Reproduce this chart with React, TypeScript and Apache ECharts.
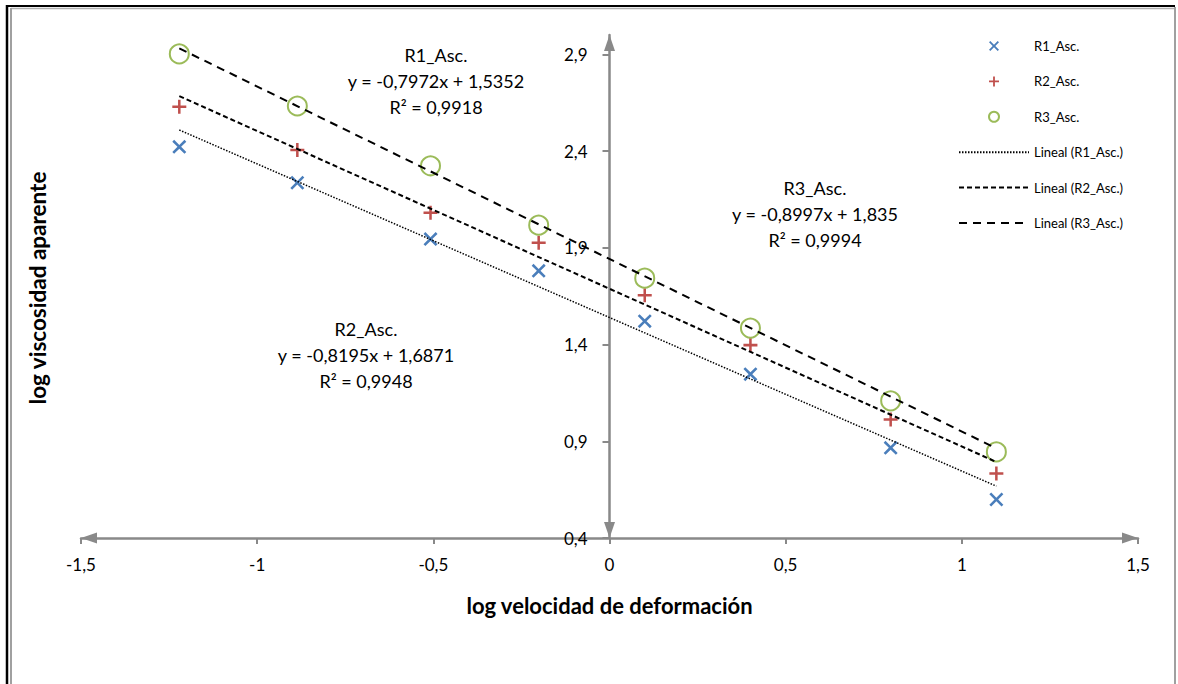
import React, { useEffect, useRef } from "react";
import * as echarts from "echarts";

// ---- data ----
const xValues = [-1.221, -0.886, -0.508, -0.201, 0.1, 0.4, 0.798, 1.098];
const r1Values = [2.422, 2.236, 1.945, 1.781, 1.521, 1.247, 0.866, 0.599];
const r2Values = [2.629, 2.405, 2.081, 1.926, 1.655, 1.397, 1.013, 0.733];
const r3Values = [2.902, 2.633, 2.324, 2.017, 1.743, 1.485, 1.109, 0.845];
// trend lines: value at first x and at last x
const trendR1 = [2.509, 0.668];
const trendR2 = [2.684, 0.793];
const trendR3 = [2.931, 0.863];

const seriesNames = ["R1_Asc.", "R2_Asc.", "R3_Asc."];
const trendNames = ["Lineal (R1_Asc.)", "Lineal (R2_Asc.)", "Lineal (R3_Asc.)"];
const yTicks = [0.4, 0.9, 1.4, 1.9, 2.4, 2.9];
const xAxisTitle = "log velocidad de deformación";
const yAxisTitle = "log viscosidad aparente";

const annR1 = ["R1_Asc.", "y = -0,7972x + 1,5352", "R² = 0,9918"];
const annR2 = ["R2_Asc.", "y = -0,8195x + 1,6871", "R² = 0,9948"];
const annR3 = ["R3_Asc.", "y = -0,8997x + 1,835", "R² = 0,9994"];

const FONT = "Lato, 'Open Sans', sans-serif";
const AXIS_COLOR = "#898989";

const CROSS = "path://M0,1.3L1.3,0L5,3.7L8.7,0L10,1.3L6.3,5L10,8.7L8.7,10L5,6.3L1.3,10L0,8.7L3.7,5Z";
const PLUS = "path://M4.1,0H5.9V4.1H10V5.9H5.9V10H4.1V5.9H0V4.1H4.1Z";

const fmt = (v: number) => {
  const s = Math.abs(v - Math.round(v)) < 1e-9 ? String(Math.round(v)) : String(Math.round(v * 10) / 10);
  return s.replace(".", ",");
};

function annotation(lines: string[], cx: number, cy: number) {
  return lines.map((t, i) => ({
    type: "text",
    x: cx,
    y: cy + i * 26,
    silent: true,
    style: {
      text: t,
      fontFamily: FONT,
      fontSize: 18,
      fill: "#000",
      align: "center",
      verticalAlign: "middle",
    },
  }));
}

export default function App() {
  const ref = useRef<HTMLDivElement>(null);

  useEffect(() => {
    if (!ref.current) return;
    const chart = echarts.init(ref.current, undefined, { renderer: "svg" });
    const last = xValues.length - 1;
    const gridLeft = 81;
    const gridRight = 40;
    const gridWidth = 1178 - gridLeft - gridRight;
    // y axis sits at x = 0, which is the middle of the symmetric x range
    const yAxisOffset = -gridWidth / 2;

    const option: any = {
      animation: false,
      backgroundColor: "#fff",
      grid: { left: gridLeft, right: gridRight, top: 35, bottom: 146, containLabel: false, outerBoundsMode: "none" },
      legend: {
        orient: "vertical",
        left: 958,
        top: 39,
        padding: 0,
        itemWidth: 70,
        itemHeight: 10,
        itemGap: 21.4,
        selectedMode: false,
        textStyle: { fontFamily: FONT, fontSize: 13, color: "#000", lineHeight: 14 },
        data: [...seriesNames, ...trendNames],
      },
      xAxis: {
        type: "value",
        min: -1.5,
        max: 1.5,
        interval: 0.5,
        name: xAxisTitle,
        nameLocation: "middle",
        nameGap: 56,
        nameTextStyle: { fontFamily: FONT, fontSize: 22, fontWeight: "bold", color: "#000" },
        splitLine: { show: false },
        axisLine: {
          show: true,
          onZero: false,
          lineStyle: { color: AXIS_COLOR, width: 2.5 },
          symbol: ["triangle", "triangle"],
          symbolSize: [11, 16],
          symbolOffset: [8, -8],
        },
        axisTick: { show: true, length: 6, lineStyle: { color: AXIS_COLOR, width: 2 } },
        axisLabel: {
          margin: 18,
          fontFamily: FONT,
          fontSize: 17,
          color: "#000",
          formatter: (v: number) => fmt(v),
        },
      },
      yAxis: {
        type: "value",
        min: 0.4,
        max: 3.0,
        offset: yAxisOffset,
        splitLine: { show: false },
        axisLine: {
          show: true,
          onZero: false,
          lineStyle: { color: AXIS_COLOR, width: 2.5 },
          symbol: ["triangle", "triangle"],
          symbolSize: [11, 16],
          symbolOffset: [8, -8],
        },
        axisTick: { show: true, length: 7, customValues: yTicks, lineStyle: { color: AXIS_COLOR, width: 2 } },
        axisLabel: {
          margin: 22,
          customValues: yTicks,
          fontFamily: FONT,
          fontSize: 17,
          color: "#000",
          formatter: (v: number) => fmt(v),
        },
      },
      series: [
        {
          type: "scatter",
          name: seriesNames[0],
          data: xValues.map((x, i) => [x, r1Values[i]]),
          symbol: CROSS,
          symbolSize: 14,
          symbolKeepAspect: true,
          itemStyle: { color: "#4a7ebb", opacity: 1 },
          emphasis: { disabled: true },
        },
        {
          type: "scatter",
          name: seriesNames[1],
          data: xValues.map((x, i) => [x, r2Values[i]]),
          symbol: PLUS,
          symbolSize: 14,
          symbolKeepAspect: true,
          itemStyle: { color: "#c0504d", opacity: 1 },
          emphasis: { disabled: true },
        },
        {
          type: "scatter",
          name: seriesNames[2],
          data: xValues.map((x, i) => [x, r3Values[i]]),
          symbol: "emptyCircle",
          symbolSize: 19,
          itemStyle: { color: "#9bbb59", borderColor: "#9bbb59", borderWidth: 2.2, opacity: 1 },
          emphasis: { disabled: true },
        },
        {
          type: "line",
          name: trendNames[0],
          data: [[xValues[0], trendR1[0]], [xValues[last], trendR1[1]]],
          symbol: "none",
          itemStyle: { color: "rgba(0,0,0,0)", borderWidth: 0 },
          lineStyle: { color: "#000", width: 1.5, type: [1.5, 1.5] },
          emphasis: { disabled: true },
        },
        {
          type: "line",
          name: trendNames[1],
          data: [[xValues[0], trendR2[0]], [xValues[last], trendR2[1]]],
          symbol: "none",
          itemStyle: { color: "rgba(0,0,0,0)", borderWidth: 0 },
          lineStyle: { color: "#000", width: 2, type: [5, 3] },
          emphasis: { disabled: true },
        },
        {
          type: "line",
          name: trendNames[2],
          data: [[xValues[0], trendR3[0]], [xValues[last], trendR3[1]]],
          symbol: "none",
          itemStyle: { color: "rgba(0,0,0,0)", borderWidth: 0 },
          lineStyle: { color: "#000", width: 2, type: [8, 6] },
          emphasis: { disabled: true },
        },
      ],
      graphic: [
        { type: "line", silent: true, shape: { x1: 7, y1: 6, x2: 1175, y2: 6 }, style: { stroke: "#000", lineWidth: 2 } },
        { type: "line", silent: true, shape: { x1: 7, y1: 5, x2: 7, y2: 684 }, style: { stroke: "#000", lineWidth: 2.5 } },
        { type: "line", silent: true, shape: { x1: 11, y1: 8.5, x2: 1175, y2: 8.5 }, style: { stroke: "#b0b0b0", lineWidth: 1.5 } },
        { type: "line", silent: true, shape: { x1: 11, y1: 8, x2: 11, y2: 684 }, style: { stroke: "#a0a0a0", lineWidth: 2 } },
        { type: "line", silent: true, shape: { x1: 1175, y1: 7, x2: 1175, y2: 684 }, style: { stroke: "#a0a0a0", lineWidth: 2 } },
        {
          type: "text",
          x: 37,
          y: 288,
          rotation: Math.PI / 2,
          silent: true,
          style: {
            text: yAxisTitle,
            fontFamily: FONT,
            fontSize: 22.5,
            fontWeight: "bold",
            fill: "#000",
            align: "center",
            verticalAlign: "middle",
          },
        },
        ...annotation(annR1, 436, 55),
        ...annotation(annR3, 815, 188),
        ...annotation(annR2, 366, 329),
      ],
    };

    chart.setOption(option);
    return () => chart.dispose();
  }, []);

  return (
    <div
      ref={ref}
      style={{ position: "fixed", left: 0, top: 0, width: 1178, height: 684, background: "#fff" }}
    />
  );
}
